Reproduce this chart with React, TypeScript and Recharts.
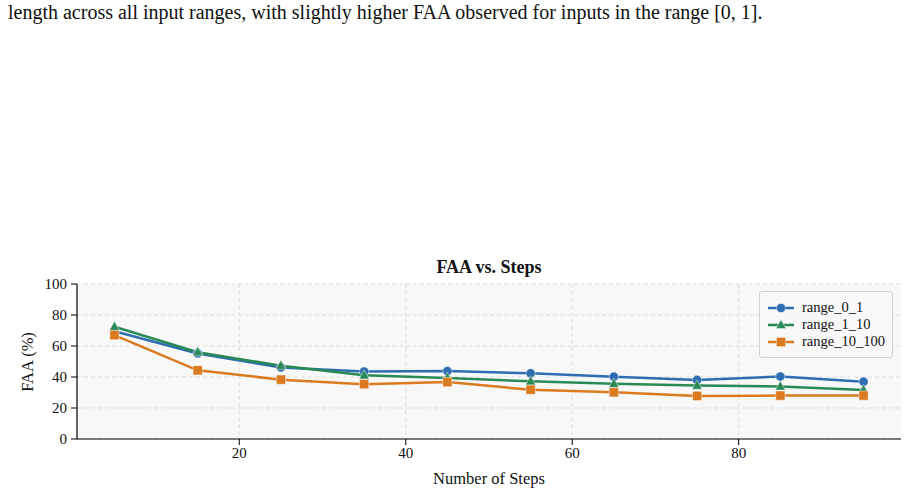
import { LineChart, Line, XAxis, YAxis, CartesianGrid } from 'recharts'

const steps = [5, 15, 25, 35, 45, 55, 65, 75, 85, 95]
const range_0_1 = [69.5, 55.2, 46.2, 43.5, 43.8, 42.4, 40.2, 38.1, 40.3, 37.0]
const range_1_10 = [72.4, 56.0, 47.3, 41.1, 39.4, 37.2, 35.6, 34.5, 33.9, 31.6]
const range_10_100 = [67.0, 44.3, 38.3, 35.4, 36.7, 31.8, 30.1, 27.8, 28.0, 28.0]
const xTicks = [20, 40, 60, 80]
const yTicks = [0, 20, 40, 60, 80, 100]

const series = [
  { key: 'range_0_1', color: '#2d6db0', marker: 'circle' },
  { key: 'range_1_10', color: '#2a8a55', marker: 'triangle' },
  { key: 'range_10_100', color: '#db7a1f', marker: 'square' },
]

const rows = steps.map((s, i) => ({
  step: s,
  range_0_1: range_0_1[i],
  range_1_10: range_1_10[i],
  range_10_100: range_10_100[i],
}))

const serif = '"Liberation Serif", "Times New Roman", serif'

function Marker({ cx, cy, color, marker }: { cx: number; cy: number; color: string; marker: string }) {
  const common = { fill: color, stroke: '#ffffff', strokeOpacity: 0.45, strokeWidth: 1 }
  if (marker === 'circle') return <circle cx={cx} cy={cy} r={4.6} {...common} />
  if (marker === 'square') return <rect x={cx - 4.6} y={cy - 4.6} width={9.2} height={9.2} {...common} />
  return <polygon points={`${cx},${cy - 5.6} ${cx + 5},${cy + 3.6} ${cx - 5},${cy + 3.6}`} {...common} />
}

function LegendBox() {
  return (
    <div
      style={{
        position: 'absolute',
        left: 759,
        top: 291,
        width: 134,
        height: 67,
        border: '1px solid #d0d0d0',
        borderRadius: 3,
        background: 'rgba(248,248,248,0.85)',
        fontFamily: serif,
        fontSize: 14.5,
        color: '#111',
        boxSizing: 'border-box',
        paddingTop: 7,
      }}
    >
      {series.map((s) => (
        <div key={s.key} style={{ display: 'flex', alignItems: 'center', height: 17, paddingLeft: 7 }}>
          <svg width={28} height={14} style={{ marginRight: 7 }}>
            <line x1={1} y1={7} x2={27} y2={7} stroke={s.color} strokeWidth={2.5} />
            <Marker cx={14} cy={7} color={s.color} marker={s.marker} />
          </svg>
          <span>{s.key}</span>
        </div>
      ))}
    </div>
  )
}

export default function App() {
  return (
    <div style={{ position: 'fixed', left: 0, top: 0, width: 916, height: 494, background: '#fff', overflow: 'hidden' }}>
      <div
        style={{
          position: 'absolute',
          left: 8,
          top: 1,
          fontFamily: serif,
          fontSize: 20,
          color: '#111',
          whiteSpace: 'nowrap',
        }}
      >
        length across all input ranges, with slightly higher FAA observed for inputs in the range [0, 1].
      </div>
      <div
        style={{
          position: 'absolute',
          left: 0,
          width: 978,
          top: 257,
          textAlign: 'center',
          fontFamily: serif,
          fontSize: 18,
          fontWeight: 'bold',
          color: '#111',
        }}
      >
        FAA vs. Steps
      </div>
      <div
        style={{
          position: 'absolute',
          left: 28,
          top: 362,
          transform: 'translate(-50%, -50%) rotate(-90deg)',
          fontFamily: serif,
          fontSize: 16.5,
          color: '#111',
          whiteSpace: 'nowrap',
        }}
      >
        FAA (%)
      </div>
      <div
        style={{
          position: 'absolute',
          left: 0,
          width: 978,
          top: 469,
          textAlign: 'center',
          fontFamily: serif,
          fontSize: 16.5,
          color: '#111',
        }}
      >
        Number of Steps
      </div>
      <div style={{ position: 'absolute', left: 0, top: 0 }}>
        <LineChart width={916} height={494} data={rows} margin={{ top: 284, right: 15, bottom: 25, left: 37 }}>
          <CartesianGrid
            fill="#f8f8f8"
            stroke="#dddddd"
            strokeDasharray="4 3"
            horizontalValues={yTicks}
            verticalValues={xTicks}
          />
          <XAxis
            dataKey="step"
            type="number"
            domain={[0.5, 99.5]}
            ticks={xTicks}
            allowDataOverflow
            height={30}
            axisLine={{ stroke: '#000', strokeWidth: 1.2 }}
            tickLine={{ stroke: '#000' }}
            tickSize={6}
            tickMargin={2}
            tick={{ fill: '#111', fontFamily: serif, fontSize: 15 }}
          />
          <YAxis
            type="number"
            domain={[0, 100]}
            ticks={yTicks}
            width={40}
            axisLine={{ stroke: '#000', strokeWidth: 1.2 }}
            tickLine={{ stroke: '#000' }}
            tickSize={6}
            tickMargin={4}
            tick={{ fill: '#111', fontFamily: serif, fontSize: 15 }}
          />
          {series.map((s) => (
            <Line
              key={s.key}
              dataKey={s.key}
              type="linear"
              stroke={s.color}
              strokeWidth={2.5}
              isAnimationActive={false}
              dot={(p: any) => <Marker key={`${s.key}-${p.index}`} cx={p.cx} cy={p.cy} color={s.color} marker={s.marker} />}
              activeDot={false}
            />
          ))}
        </LineChart>
      </div>
      <LegendBox />
    </div>
  )
}
